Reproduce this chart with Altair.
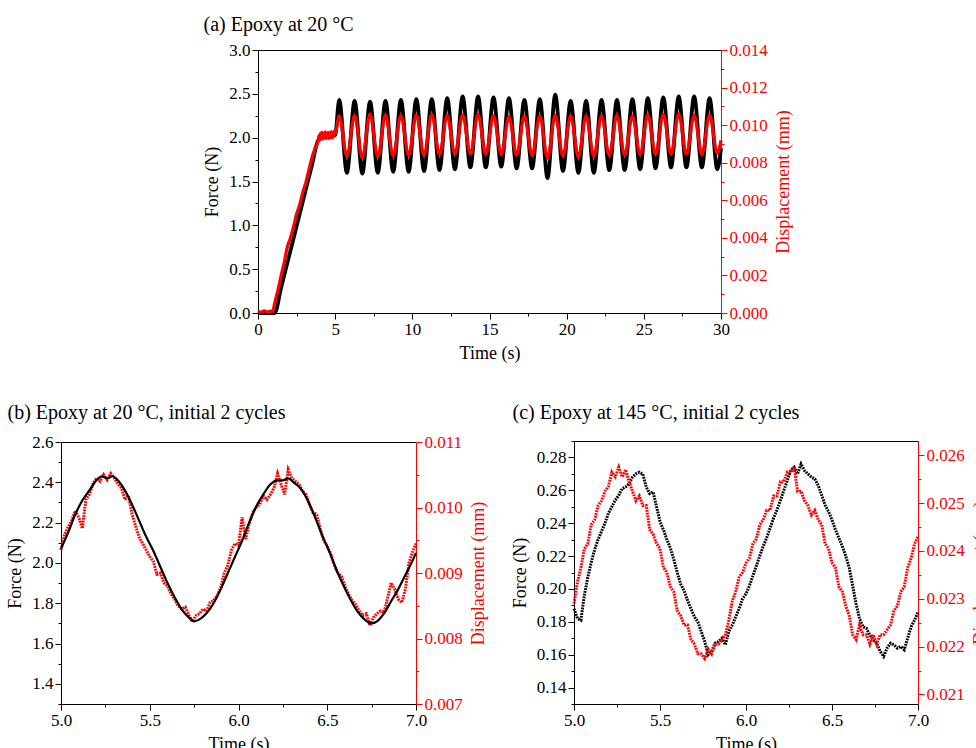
import altair as alt
import pandas as pd

FONT = "Liberation Serif"
RED = "#ff0000"

# ---------------- Panel (a): Epoxy at 20 °C (0-30 s) ----------------
a_force_t = [0.0, 1.08, 1.5, 2.0, 2.5, 3.0, 3.5, 3.9, 4.5, 5.0,
             5.26, 5.76, 6.26, 6.76, 7.26, 7.76, 8.26, 8.76, 9.26, 9.76,
             10.26, 10.76, 11.26, 11.76, 12.26, 12.76, 13.26, 13.76, 14.26, 14.76,
             15.26, 15.76, 16.26, 16.76, 17.26, 17.76, 18.26, 18.76, 19.26, 19.76,
             20.26, 20.76, 21.26, 21.76, 22.26, 22.76, 23.26, 23.76, 24.26, 24.76,
             25.26, 25.76, 26.26, 26.76, 27.26, 27.76, 28.26, 28.76, 29.26, 29.76, 30.0]
a_force_v = [0.0, 0.0, 0.29, 0.64, 0.99, 1.34, 1.69, 1.97, 2.02, 2.03,
             2.43, 1.60, 2.42, 1.59, 2.41, 1.60, 2.42, 1.61, 2.43, 1.61,
             2.44, 1.62, 2.44, 1.63, 2.45, 1.64, 2.47, 1.66, 2.47, 1.66,
             2.46, 1.67, 2.45, 1.65, 2.43, 1.65, 2.44, 1.54, 2.49, 1.62,
             2.42, 1.60, 2.42, 1.60, 2.43, 1.63, 2.43, 1.63, 2.44, 1.64,
             2.45, 1.65, 2.46, 1.66, 2.47, 1.66, 2.47, 1.66, 2.45, 1.64, 1.88]

a_disp_t = [0.0, 0.2, 0.4, 0.6, 0.8, 0.93, 1.1, 1.3, 1.5, 1.7, 1.9, 2.1, 2.3, 2.5,
            2.7, 2.9, 3.1, 3.3, 3.5, 3.7, 3.9, 3.95, 4.0, 4.05, 4.1, 4.15, 4.2,
            4.25, 4.3, 4.35, 4.4, 4.45, 4.5, 4.55, 4.6, 4.65, 4.7, 4.75, 4.8,
            4.85, 4.9, 4.95, 5.0,
            5.26, 5.76, 6.26, 6.76, 7.26, 7.76, 8.26, 8.76, 9.26, 9.76,
            10.26, 10.76, 11.26, 11.76, 12.26, 12.76, 13.26, 13.76, 14.26, 14.76,
            15.26, 15.76, 16.26, 16.76, 17.26, 17.76, 18.26, 18.76, 19.26, 19.76,
            20.26, 20.76, 21.26, 21.76, 22.26, 22.76, 23.26, 23.76, 24.26, 24.76,
            25.26, 25.76, 26.26, 26.76, 27.26, 27.76, 28.26, 28.76, 29.26, 29.76, 30.0]
a_disp_v = [0.00010, 0.00004, 0.00012, 0.00005, 0.00010, 0.00006, 0.00060, 0.00124,
            0.00200, 0.00268, 0.00352, 0.00400, 0.00458, 0.00528, 0.00575, 0.00642,
            0.00695, 0.00762, 0.00828, 0.00878, 0.00918, 0.00945, 0.00922, 0.00958,
            0.00930, 0.00962, 0.00926, 0.00955, 0.00932, 0.00964, 0.00928, 0.00958,
            0.00935, 0.00962, 0.00930, 0.00956, 0.00934, 0.00966, 0.00932, 0.00958,
            0.00940, 0.00968, 0.00958,
            0.01050, 0.00835, 0.01052, 0.00825, 0.01060, 0.00830, 0.01055, 0.00835,
            0.01052, 0.00838, 0.01055, 0.00840, 0.01058, 0.00842, 0.01052, 0.00845,
            0.01055, 0.00845, 0.01058, 0.00845, 0.01050, 0.00842, 0.01045, 0.00840,
            0.01048, 0.00838, 0.01050, 0.00825, 0.01052, 0.00835, 0.01050, 0.00830,
            0.01048, 0.00835, 0.01050, 0.00838, 0.01052, 0.00840, 0.01050, 0.00842,
            0.01055, 0.00845, 0.01058, 0.00845, 0.01060, 0.00845, 0.01052, 0.00842,
            0.01055, 0.00850, 0.00920]

a_x_ticks = [0, 2.5, 5, 7.5, 10, 12.5, 15, 17.5, 20, 22.5, 25, 27.5, 30]
a_f_ticks = [0, 0.25, 0.5, 0.75, 1.0, 1.25, 1.5, 1.75, 2.0, 2.25, 2.5, 2.75, 3.0]
a_d_ticks = [0, 0.001, 0.002, 0.003, 0.004, 0.005, 0.006, 0.007, 0.008,
             0.009, 0.010, 0.011, 0.012, 0.013, 0.014]

# ---------------- Panel (b): Epoxy at 20 °C, initial 2 cycles ----------------
b_force_t = [5.00, 5.04, 5.08, 5.12, 5.16, 5.20, 5.23, 5.26, 5.29, 5.32, 5.36, 5.40,
             5.44, 5.48, 5.52, 5.56, 5.60, 5.64, 5.68, 5.72, 5.75, 5.78, 5.82, 5.86,
             5.90, 5.94, 5.98, 6.02, 6.06, 6.10, 6.14, 6.18, 6.22, 6.25, 6.28, 6.31,
             6.35, 6.39, 6.43, 6.47, 6.51, 6.55, 6.59, 6.63, 6.67, 6.71, 6.75, 6.78,
             6.82, 6.86, 6.90, 6.94, 6.98, 7.00]
b_force_v = [2.07, 2.15, 2.24, 2.31, 2.36, 2.41, 2.43, 2.42, 2.43, 2.41, 2.36, 2.29,
             2.21, 2.13, 2.06, 1.98, 1.90, 1.83, 1.77, 1.73, 1.71, 1.72, 1.75, 1.80,
             1.87, 1.95, 2.03, 2.11, 2.20, 2.28, 2.34, 2.39, 2.41, 2.41, 2.42, 2.40,
             2.37, 2.31, 2.23, 2.14, 2.06, 1.97, 1.89, 1.82, 1.76, 1.72, 1.70, 1.71,
             1.75, 1.81, 1.87, 1.94, 2.01, 2.05]

# common sample times for the dotted records (b, c)
t_rec = [5.00, 5.02, 5.04, 5.06, 5.08, 5.10, 5.12, 5.14, 5.16, 5.18,
         5.20, 5.22, 5.24, 5.26, 5.28, 5.30, 5.32, 5.34, 5.36, 5.38,
         5.40, 5.42, 5.44, 5.46, 5.48, 5.50, 5.52, 5.54, 5.56, 5.58,
         5.60, 5.62, 5.64, 5.66, 5.68, 5.70, 5.72, 5.74, 5.76, 5.78,
         5.80, 5.82, 5.84, 5.86, 5.88, 5.90, 5.92, 5.94, 5.96, 5.98,
         6.00, 6.02, 6.04, 6.06, 6.08, 6.10, 6.12, 6.14, 6.16, 6.18,
         6.20, 6.22, 6.24, 6.26, 6.28, 6.30, 6.32, 6.34, 6.36, 6.38,
         6.40, 6.42, 6.44, 6.46, 6.48, 6.50, 6.52, 6.54, 6.56, 6.58,
         6.60, 6.62, 6.64, 6.66, 6.68, 6.70, 6.72, 6.74, 6.76, 6.78,
         6.80, 6.82, 6.84, 6.86, 6.88, 6.90, 6.92, 6.94, 6.96, 6.98, 7.00]

b_disp_v = [0.00935, 0.00958, 0.00970, 0.00980, 0.00995, 0.00985, 0.00968, 0.01012, 0.01020, 0.01036,
            0.01045, 0.01040, 0.01050, 0.01042, 0.01052, 0.01045, 0.01036, 0.01030, 0.01012, 0.01018,
            0.00990, 0.00972, 0.00955, 0.00945, 0.00935, 0.00925, 0.00918, 0.00898, 0.00900, 0.00885,
            0.00880, 0.00868, 0.00860, 0.00850, 0.00845, 0.00848, 0.00836, 0.00826, 0.00835, 0.00838,
            0.00845, 0.00842, 0.00855, 0.00858, 0.00866, 0.00878, 0.00900, 0.00912, 0.00935, 0.00945,
            0.00942, 0.00985, 0.00952, 0.00975, 0.00992, 0.01000, 0.01005, 0.01018, 0.01012, 0.01020,
            0.01030, 0.01052, 0.01035, 0.01020, 0.01058, 0.01045, 0.01040, 0.01036, 0.01025, 0.01020,
            0.01005, 0.00992, 0.00990, 0.00968, 0.00950, 0.00940, 0.00930, 0.00912, 0.00900, 0.00895,
            0.00880, 0.00868, 0.00858, 0.00852, 0.00842, 0.00835, 0.00838, 0.00820, 0.00832, 0.00838,
            0.00842, 0.00840, 0.00862, 0.00885, 0.00875, 0.00860, 0.00855, 0.00875, 0.00915, 0.00932, 0.00945]

bc_x_ticks = [5.0, 5.25, 5.5, 5.75, 6.0, 6.25, 6.5, 6.75, 7.0]
b_f_ticks = [1.3, 1.4, 1.5, 1.6, 1.7, 1.8, 1.9, 2.0, 2.1, 2.2, 2.3, 2.4, 2.5, 2.6]
b_d_ticks = [0.007, 0.0075, 0.008, 0.0085, 0.009, 0.0095, 0.010, 0.0105, 0.011]

# ---------------- Panel (c): Epoxy at 145 °C, initial 2 cycles ----------------
c_force_v = [0.188, 0.182, 0.181, 0.196, 0.207, 0.216, 0.224, 0.230, 0.235, 0.240,
             0.246, 0.250, 0.254, 0.257, 0.261, 0.262, 0.264, 0.268, 0.270, 0.271,
             0.270, 0.262, 0.258, 0.259, 0.250, 0.241, 0.236, 0.230, 0.225, 0.218,
             0.210, 0.203, 0.199, 0.193, 0.188, 0.183, 0.180, 0.174, 0.168, 0.160,
             0.162, 0.167, 0.168, 0.170, 0.166, 0.174, 0.178, 0.183, 0.188, 0.194,
             0.197, 0.202, 0.208, 0.214, 0.220, 0.226, 0.231, 0.237, 0.243, 0.248,
             0.254, 0.260, 0.266, 0.272, 0.274, 0.270, 0.276, 0.272, 0.270, 0.268,
             0.267, 0.263, 0.257, 0.251, 0.247, 0.242, 0.236, 0.231, 0.226, 0.220,
             0.213, 0.202, 0.191, 0.182, 0.177, 0.176, 0.172, 0.169, 0.167, 0.162,
             0.159, 0.164, 0.167, 0.166, 0.164, 0.165, 0.163, 0.170, 0.177, 0.181, 0.186]

c_disp_v = [0.02290, 0.02335, 0.02365, 0.02405, 0.02415, 0.02455, 0.02465, 0.02495, 0.02505, 0.02525,
            0.02535, 0.02565, 0.02555, 0.02575, 0.02555, 0.02570, 0.02545, 0.02525, 0.02505, 0.02515,
            0.02495, 0.02495, 0.02445, 0.02435, 0.02415, 0.02405, 0.02365, 0.02355, 0.02325, 0.02315,
            0.02275, 0.02265, 0.02245, 0.02245, 0.02215, 0.02205, 0.02185, 0.02185, 0.02175, 0.02195,
            0.02185, 0.02205, 0.02205, 0.02215, 0.02225, 0.02255, 0.02295, 0.02315, 0.02345, 0.02355,
            0.02375, 0.02385, 0.02415, 0.02425, 0.02455, 0.02465, 0.02485, 0.02485, 0.02515, 0.02515,
            0.02545, 0.02545, 0.02565, 0.02565, 0.02575, 0.02525, 0.02525, 0.02505, 0.02495, 0.02475,
            0.02485, 0.02465, 0.02455, 0.02415, 0.02405, 0.02375, 0.02365, 0.02325, 0.02315, 0.02285,
            0.02265, 0.02225, 0.02215, 0.02245, 0.02225, 0.02225, 0.02205, 0.02225, 0.02205, 0.02225,
            0.02225, 0.02235, 0.02245, 0.02275, 0.02285, 0.02315, 0.02325, 0.02365, 0.02385, 0.02415, 0.02430]

c_f_ticks = [0.13, 0.14, 0.15, 0.16, 0.17, 0.18, 0.19, 0.20, 0.21, 0.22, 0.23,
             0.24, 0.25, 0.26, 0.27, 0.28, 0.29]
c_d_ticks = [0.021, 0.0215, 0.022, 0.0225, 0.023, 0.0235, 0.024, 0.0245,
             0.025, 0.0255, 0.026]

# ---------------- layout (whole canvas is one plot area) ----------------
W, H = 976, 748


def mk_axis(values, step, fmt, orient, title, offset, color="black"):
    test = f"abs(datum.value / {step} - round(datum.value / {step})) < 0.000001"
    kw = dict(
        values=values, orient=orient, title=title, offset=offset,
        labelExpr=f"{test} ? format(datum.value, '{fmt}') : ''",
        tickSize={"condition": {"test": test, "value": 6}, "value": 3},
        domainColor=color, tickColor=color, labelColor=color, titleColor=color,
    )
    if orient == "right":
        kw.update(titleAngle=270, titleBaseline="top")
    return alt.Axis(**kw)


def panel(ft, fv, dt, dv, box, xdom, xvals, xstep, xfmt,
          fdom, fvals, fstep, ffmt, ddom, dvals, dstep, dfmt,
          title, title_xy, fmark, dmark, red_on_top):
    x0, x1, y0, y1 = box  # plot left, right, top, bottom in pixels
    df_f = pd.DataFrame({"t": ft, "v": fv})
    df_d = pd.DataFrame({"t": dt, "v": dv})
    xs = alt.Scale(domain=xdom, range=[x0, x1], nice=False, zero=False)
    xb = alt.X("t:Q", scale=xs,
               axis=mk_axis(xvals, xstep, xfmt, "bottom", "Time (s)", -(H - y1)))
    xt = alt.X("t:Q", scale=xs,
               axis=alt.Axis(orient="top", offset=-y0, ticks=False, labels=False,
                             domainColor="black", title=title,
                             titleX=title_xy[0], titleY=title_xy[1] - y0,
                             titleAlign="left", titleBaseline="alphabetic",
                             titleAngle=0, titleFontSize=20, titleColor="black"))
    black = alt.Chart(df_f).mark_line(**fmark).encode(
        x=xb,
        y=alt.Y("v:Q", scale=alt.Scale(domain=fdom, range=[y1, y0], nice=False, zero=False),
                axis=mk_axis(fvals, fstep, ffmt, "left", "Force (N)", -x0)),
    )
    red = alt.Chart(df_d).mark_line(**dmark).encode(
        x=xt,
        y=alt.Y("v:Q", scale=alt.Scale(domain=ddom, range=[y1, y0], nice=False, zero=False),
                axis=mk_axis(dvals, dstep, dfmt, "right", "Displacement (mm)",
                             -(W - x1), RED)),
    )
    return [black, red] if red_on_top else [red, black]


layers_a = panel(a_force_t, a_force_v, a_disp_t, a_disp_v, (258, 721, 50, 313),
                 [0, 30], a_x_ticks, 5, "d",
                 [0, 3], a_f_ticks, 0.5, ".1f",
                 [0, 0.014], a_d_ticks, 0.002, ".3f",
                 "(a) Epoxy at 20 °C", (203, 30),
                 dict(color="black", strokeWidth=3.8, interpolate="monotone"),
                 dict(color=RED, strokeWidth=3.2, interpolate="monotone"),
                 True)

layers_b = panel(b_force_t, b_force_v, t_rec, b_disp_v, (61, 416, 442, 704),
                 [5, 7], bc_x_ticks, 0.5, ".1f",
                 [1.3, 2.6], b_f_ticks, 0.2, ".1f",
                 [0.007, 0.011], b_d_ticks, 0.001, ".3f",
                 "(b) Epoxy at 20 °C, initial 2 cycles", (7, 418),
                 dict(color="black", strokeWidth=2.2, interpolate="monotone"),
                 dict(color=RED, strokeWidth=3.0, strokeDash=[1.8, 1.0]),
                 False)

layers_c = panel(t_rec, c_force_v, t_rec, c_disp_v, (574, 918, 441, 704),
                 [5, 7], bc_x_ticks, 0.5, ".1f",
                 [0.13, 0.29], c_f_ticks, 0.02, ".2f",
                 [0.0208, 0.0263], c_d_ticks, 0.001, ".3f",
                 "(c) Epoxy at 145 °C, initial 2 cycles", (512, 418),
                 dict(color="black", strokeWidth=3.0, strokeDash=[1.8, 1.0]),
                 dict(color=RED, strokeWidth=3.0, strokeDash=[1.8, 1.0]),
                 True)

chart = alt.layer(*(layers_a + layers_b + layers_c)).resolve_scale(
    x="independent", y="independent"
).properties(
    width=W, height=H,
    autosize=alt.AutoSizeParams(type="none"),
    padding=0,
    background="white",
).configure_view(
    strokeOpacity=0
).configure_axis(
    labelFont=FONT, titleFont=FONT, labelFontSize=17, titleFontSize=18,
    titleFontWeight="normal", grid=False, labelOverlap=False, labelFlush=False,
    labelPadding=2, titlePadding=7, domainWidth=1, tickWidth=1,
)

chart.save("out.html", embed_options={"renderer": "svg", "actions": False})
